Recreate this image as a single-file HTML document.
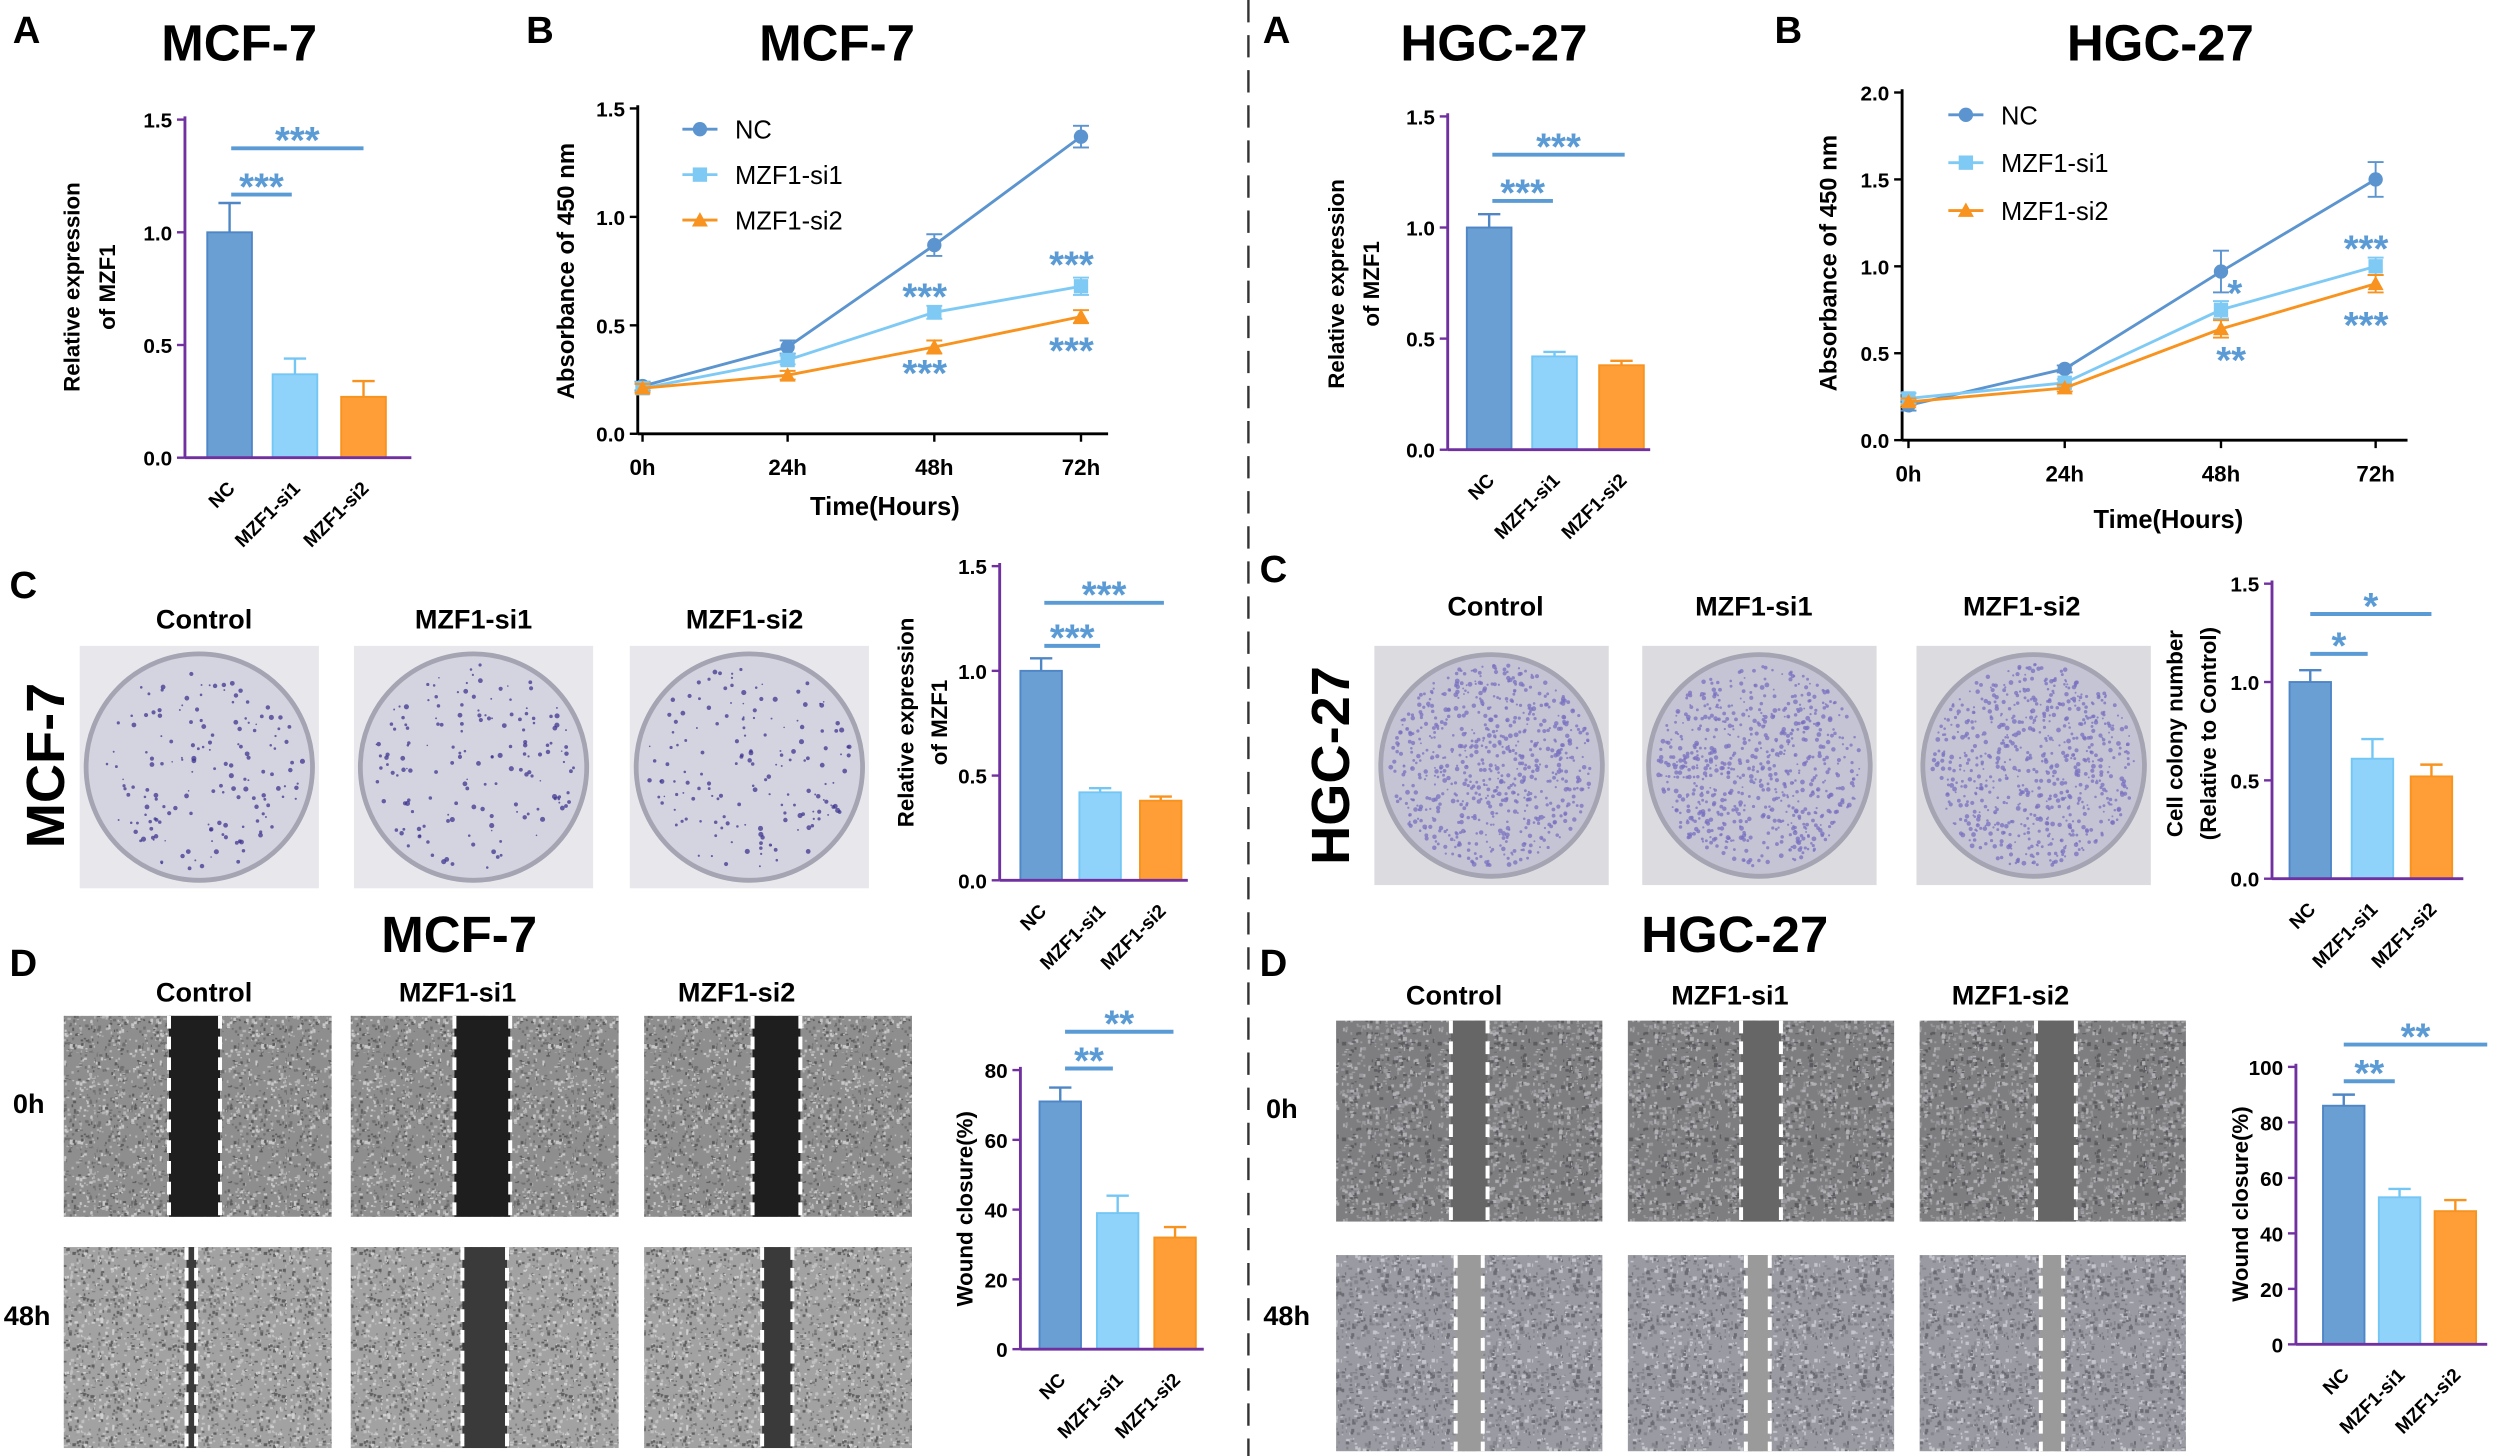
<!DOCTYPE html>
<html><head><meta charset="utf-8">
<style>
html,body{margin:0;padding:0;background:#fff;}
svg{display:block;}
text{font-family:"Liberation Sans",Arial,sans-serif;}
</style></head>
<body>
<svg id="s" width="2500" height="1456" viewBox="0 0 1568 913" preserveAspectRatio="none" xmlns="http://www.w3.org/2000/svg">
<defs id="defs"></defs>
<g id="g"></g>
</svg>
<script>
var out='';
function T(x,y,t,sz,opt){opt=opt||{};out+='<text x="'+x+'" y="'+y+'" font-size="'+sz+'" font-weight="'+(opt.w||'bold')+'" fill="'+(opt.c||'#000')+'" text-anchor="'+(opt.a||'middle')+'"'+(opt.r!==undefined?' transform="rotate('+opt.r+' '+x+' '+y+')"':'')+'>'+t+'</text>';}
function L(x1,y1,x2,y2,c,w,d){out+='<line x1="'+x1+'" y1="'+y1+'" x2="'+x2+'" y2="'+y2+'" stroke="'+(c||'#000')+'" stroke-width="'+(w||1.5)+'"'+(d?' stroke-dasharray="'+d+'"':'')+'/>';}
function R(x,y,w,h,f,s){out+='<rect x="'+x+'" y="'+y+'" width="'+w+'" height="'+h+'" fill="'+f+'"'+(s?' stroke="'+s+'" stroke-width="1.2"':'')+'/>';}
var COL=['#6a9fd4','#8fd3fb','#ff9e37'],SCOL=['#4f86c6','#74c7f5','#f7931e'];
var ST='#5b9bd5';
var seedG=1;function rnd(){seedG=(seedG*9301+49297)%233280;return seedG/233280;}
// patterns
var defs='';
function pat(id,base,cols,n,sz){var p='<pattern id="'+id+'" width="60" height="60" patternUnits="userSpaceOnUse"><rect width="60" height="60" fill="'+base+'"/>';
 for(var i=0;i<n;i++){p+='<rect x="'+(rnd()*60).toFixed(1)+'" y="'+(rnd()*60).toFixed(1)+'" width="'+(0.6+rnd()*sz).toFixed(1)+'" height="'+(0.6+rnd()*sz).toFixed(1)+'" fill="'+cols[Math.floor(rnd()*cols.length)]+'"/>';}
 return p+'</pattern>';}
defs+=pat('pm','#8e8e8e',['#5a5a5a','#c8c8c8','#707070','#b4b4b4'],500,1.6);
defs+=pat('pm2','#a2a2a2',['#606060','#d0d0d0','#7a7a7a','#c0c0c0'],500,1.6);
defs+=pat('ph','#7e7e80',['#5c5c60','#b0b0b4','#9a9a9e'],450,2);
defs+=pat('ph2','#9a9aa2',['#6c6c74','#c4c4cc','#84848c'],450,2);
document.getElementById('defs').innerHTML=defs;

function bar(c){
 var ac=c.ac||'#7030a0',sc=(c.y0-c.ytop)/c.max;
 c.ticks.forEach(function(t,i){var y=c.y0-t*sc;L(c.ax-5,y,c.ax,y,ac,1.5);T(c.ax-8,y+5,c.tl[i],13,{a:'end'});});
 c.bars.forEach(function(b,i){var h=c.vals[i]*sc,top=c.y0-h,e=c.errs[i]*sc;
  L(b,top,b,top-e,SCOL[i],1.5);L(b-7,top-e,b+7,top-e,SCOL[i],1.5);
  R(b-c.bw/2,top,c.bw,h,COL[i],SCOL[i]);
  T(b+4,c.y0+20,['NC','MZF1-si1','MZF1-si2'][i],12,{a:'end',r:-45});
 });
 L(c.ax,c.ytop-2,c.ax,c.y0,ac,1.8);L(c.ax,c.y0,c.xe,c.y0,ac,1.8);
 c.sig.forEach(function(s){L(s[0],s[2],s[1],s[2],ST,2.5);T((s[0]+s[1])/2,s[2]+3,s[3],24,{c:ST,w:'bold'});});
 c.yl.forEach(function(t,i){T(c.ylx[i],c.ylc,t,14,{r:-90});});
}
function line(c){
 var sc=(c.y0-c.ytop)/c.max;
 c.ticks.forEach(function(t){var y=c.y0-t*sc;L(c.ax-5,y,c.ax,y);T(c.ax-8,y+5,t.toFixed(1),13,{a:'end'});});
 c.xs.forEach(function(x,i){L(x,c.y0,x,c.y0+5);T(x,c.y0+26,['0h','24h','48h','72h'][i],14);});
 L(c.ax,c.ytop-2,c.ax,c.y0,'#000',1.8);L(c.ax,c.y0,c.xe,c.y0,'#000',1.8);
 var lc=['#5b94cf','#7fcaf5','#f7931e'];
 c.data.forEach(function(d,k){var p=d.map(function(v,i){return c.xs[i]+','+(c.y0-v*sc);}).join(' ');
  out+='<polyline points="'+p+'" fill="none" stroke="'+lc[k]+'" stroke-width="1.8"/>';
  d.forEach(function(v,i){var x=c.xs[i],y=c.y0-v*sc,e=(c.err[k][i]||0)*sc;
   if(e){L(x,y-e,x,y+e,lc[k],1.2);L(x-5,y-e,x+5,y-e,lc[k],1.2);L(x-5,y+e,x+5,y+e,lc[k],1.2);}
   if(k==0)out+='<circle cx="'+x+'" cy="'+y+'" r="4.5" fill="'+lc[k]+'"/>';
   else if(k==1)R(x-4.5,y-4.5,9,9,lc[k]);
   else out+='<polygon points="'+x+','+(y-5)+' '+(x-5)+','+(y+4)+' '+(x+5)+','+(y+4)+'" fill="'+lc[k]+'"/>';
  });
 });
 var names=['NC','MZF1-si1','MZF1-si2'];
 for(var k=0;k<3;k++){var y=c.lg[1]+k*c.lg[2],x=c.lg[0];L(x,y,x+22,y,lc[k],1.8);
  if(k==0)out+='<circle cx="'+(x+11)+'" cy="'+y+'" r="4.5" fill="'+lc[k]+'"/>';else if(k==1)R(x+6.5,y-4.5,9,9,lc[k]);else out+='<polygon points="'+(x+11)+','+(y-5)+' '+(x+6)+','+(y+4)+' '+(x+16)+','+(y+4)+'" fill="'+lc[k]+'"/>';
  T(x+33,y+6,names[k],16,{a:'start',w:'normal'});}
 c.stars.forEach(function(s){T(s[0],s[1]+4,s[2],24,{c:ST,a:'start'});});
 T(c.ylx,c.ylc,'Absorbance of 450 nm',15,{r:-90});
 T(c.xlx,c.xly,'Time(Hours)',16);
}
T(8,27,'A',24,{a:'start'});T(150,38,'MCF-7',32);
T(330,27,'B',24,{a:'start'});T(525,38,'MCF-7',32);
T(792,27,'A',24,{a:'start'});T(937,38,'HGC-27',32);
T(1113,27,'B',24,{a:'start'});T(1355,38,'HGC-27',32);
T(6,375,'C',24,{a:'start'});T(790,365,'C',24,{a:'start'});
T(6,612,'D',24,{a:'start'});T(790,612,'D',24,{a:'start'});
T(288,597,'MCF-7',32);T(1088,597,'HGC-27',32);
L(783,0,783,913,'#333',1.5,'14,8');

bar({ax:116,y0:287,ytop:75,max:1.5,xe:258,ticks:[0,.5,1,1.5],tl:['0.0','0.5','1.0','1.5'],bars:[144,185,228],bw:28,vals:[1,.37,.27],errs:[.13,.07,.07],sig:[[145,183,122,'***'],[145,228,93,'***']],yl:['Relative expression','of MZF1'],ylx:[50,72],ylc:180});
bar({ax:908,y0:282,ytop:73,max:1.5,xe:1035,ticks:[0,.5,1,1.5],tl:['0.0','0.5','1.0','1.5'],bars:[934,975,1017],bw:28,vals:[1,.42,.38],errs:[.06,.02,.02],sig:[[936,974,126,'***'],[936,1019,97,'***']],yl:['Relative expression','of MZF1'],ylx:[843,865],ylc:178});
bar({ax:627,y0:552,ytop:355,max:1.5,xe:745,ticks:[0,.5,1,1.5],tl:['0.0','0.5','1.0','1.5'],bars:[653,690,728],bw:26,vals:[1,.42,.38],errs:[.06,.02,.02],sig:[[655,690,405,'***'],[655,730,378,'***']],yl:['Relative expression','of MZF1'],ylx:[573,594],ylc:453});
bar({ax:1425,y0:551,ytop:366,max:1.5,xe:1545,ticks:[0,.5,1,1.5],tl:['0.0','0.5','1.0','1.5'],bars:[1449,1488,1525],bw:26,vals:[1,.61,.52],errs:[.06,.1,.06],sig:[[1449,1485,410,'*'],[1449,1525,385,'*']],yl:['Cell colony number','(Relative to Control)'],ylx:[1369,1390],ylc:460});
bar({ax:640,y0:846,ytop:671,max:80,xe:755,ticks:[0,20,40,60,80],tl:['0','20','40','60','80'],bars:[665,701,737],bw:26,vals:[71,39,32],errs:[4,5,3],sig:[[668,698,670,'**'],[668,736,647,'**']],yl:['Wound closure(%)'],ylx:[610],ylc:758});
bar({ax:1440,y0:843,ytop:669,max:100,xe:1560,ticks:[0,20,40,60,80,100],tl:['0','20','40','60','80','100'],bars:[1470,1505,1540],bw:26,vals:[86,53,48],errs:[4,3,4],sig:[[1470,1502,678,'**'],[1470,1560,655,'**']],yl:['Wound closure(%)'],ylx:[1410],ylc:755});

line({ax:400,y0:272,ytop:68,max:1.5,xe:695,ticks:[0,.5,1,1.5],xs:[403,494,586,678],data:[[.22,.40,.87,1.37],[.21,.34,.56,.68],[.21,.27,.40,.54]],err:[[.02,.03,.05,.05],[.02,.02,.03,.04],[.02,.02,.03,.03]],lg:[428,81,28.5],stars:[[566,190,'***'],[566,238,'***'],[658,170,'***'],[658,224,'***']],ylx:360,ylc:170,xlx:555,xly:323});
line({ax:1193,y0:276,ytop:58,max:2,xe:1510,ticks:[0,.5,1,1.5,2],xs:[1197,1295,1393,1490],data:[[.2,.41,.97,1.5],[.24,.33,.75,1.0],[.22,.3,.64,.9]],err:[[.03,.02,.12,.1],[.03,.02,.05,.05],[.02,.02,.05,.05]],lg:[1222,72,30],stars:[[1397,188,'*'],[1390,230,'**'],[1470,160,'***'],[1470,208,'***']],ylx:1152,ylc:165,xlx:1360,xly:331});

function dish(x,y,w,h,hgc,seed){
 R(x,y,w,h,hgc?'#dcdce0':'#e8e8ec');
 var cx=x+w/2,cy=y+h/2,r=Math.min(w,h)/2-4;
 out+='<circle cx="'+cx+'" cy="'+cy+'" r="'+r+'" fill="'+(hgc?'#c4c4d4':'#d4d4e0')+'" stroke="#a4a4b2" stroke-width="3"/>';
 seedG=seed;
 var n=hgc?700:160;
 for(var i=0;i<n;i++){var a=rnd()*6.283,d=Math.sqrt(rnd())*(r-6);
  out+='<circle cx="'+(cx+d*Math.cos(a)).toFixed(1)+'" cy="'+(cy+d*Math.sin(a)).toFixed(1)+'" r="'+(hgc?0.6+rnd()*0.9:0.5+rnd()*1.1).toFixed(1)+'" fill="'+(hgc?'#7a70c0':'#3f3590')+'" opacity="0.75"/>';}
}
[[50,'Control',128],[222,'MZF1-si1',297],[395,'MZF1-si2',467]].forEach(function(a,i){dish(a[0],405,150,152,false,11+i*7);T(a[2],394,a[1],17);});
[[862,'Control',938],[1030,'MZF1-si1',1100],[1202,'MZF1-si2',1268]].forEach(function(a,i){dish(a[0],405,147,150,true,51+i*13);T(a[2],386,a[1],17);});
T(40,480,'MCF-7',34,{r:-90});T(846,480,'HGC-27',34,{r:-90});

function wound(x,y,w,h,g1,g2,gc,p){
 R(x,y,w,h,'url(#'+p+')');
 R(g1,y,g2-g1,h,gc);
 L(g1,y,g1,y+h,'#fff',2.5,'8,5');L(g2,y,g2,y+h,'#fff',2.5,'8,5');
}
var mx=[[40,106,138,117,123],[220,285,320,290,318],[404,472,502,478,497]];
mx.forEach(function(m){wound(m[0],637,168,126,m[1],m[2],'#1e1e1e','pm');wound(m[0],782,168,126,m[3],m[4],'#3a3a3a','pm2');});
T(128,628,'Control',17);T(287,628,'MZF1-si1',17);T(462,628,'MZF1-si2',17);
T(18,698,'0h',17);T(17,831,'48h',17);
var hx=[[838,910,933,913,930],[1021,1092,1117,1095,1110],[1204,1277,1302,1280,1294]];
hx.forEach(function(m){wound(m[0],640,167,126,m[1],m[2],'#666','ph');wound(m[0],787,167,123,m[3],m[4],'#9a9a9a','ph2');});
T(912,630,'Control',17);T(1085,630,'MZF1-si1',17);T(1261,630,'MZF1-si2',17);
T(804,701,'0h',17);T(807,831,'48h',17);
document.getElementById('g').innerHTML=out;
</script>
</body></html>
